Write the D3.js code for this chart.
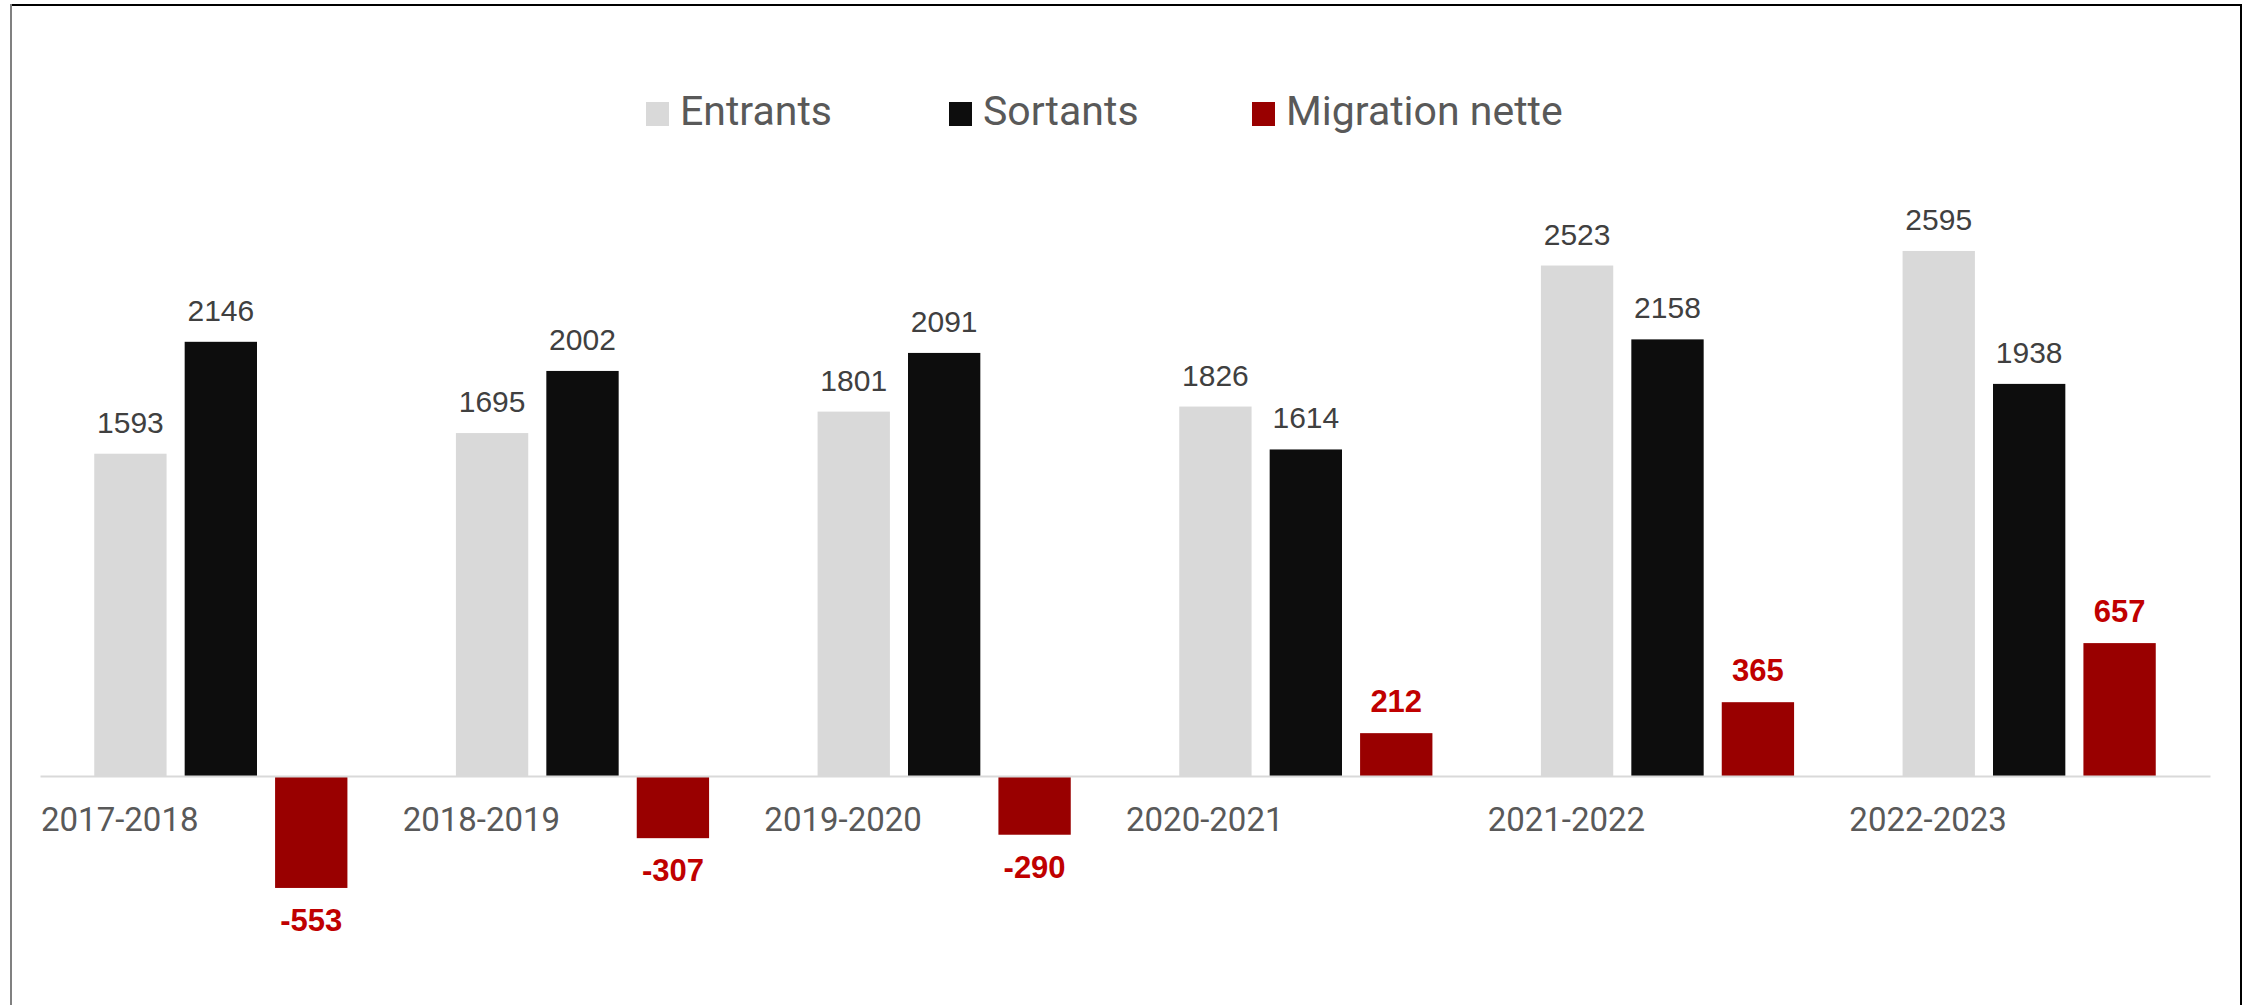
<!DOCTYPE html>
<html>
<head>
<meta charset="utf-8">
<script src="https://cdn.jsdelivr.net/npm/d3@7"></script>
<style>
  body { margin: 0; background: #fff; }
  svg { display: block; }
</style>
</head>
<body>
<div id="chart"></div>
<script>
// Migration chart: entrants, sortants and net migration per period

const categories = ["2017-2018", "2018-2019", "2019-2020", "2020-2021", "2021-2022", "2022-2023"];
const seriesNames = ["Entrants", "Sortants", "Migration nette"];
const entrants = [1593, 1695, 1801, 1826, 2523, 2595];
const sortants = [2146, 2002, 2091, 1614, 2158, 1938];
const migrationNette = [-553, -307, -290, 212, 365, 657];

const colors = ["#d9d9d9", "#0d0d0d", "#990000"];

const W = 2247, H = 1005;

const svg = d3.select("#chart")
  .append("svg")
    .attr("width", W)
    .attr("height", H);

// Frame lines (top, left, right)
svg.append("line").attr("x1", 10).attr("x2", 2242).attr("y1", 5).attr("y2", 5)
  .attr("stroke", "#000").attr("stroke-width", 2);
svg.append("line").attr("x1", 11).attr("x2", 11).attr("y1", 4).attr("y2", H)
  .attr("stroke", "#808080").attr("stroke-width", 2);
svg.append("line").attr("x1", 2241).attr("x2", 2241).attr("y1", 4).attr("y2", H)
  .attr("stroke", "#000").attr("stroke-width", 2);

// Build rows from the arrays
const data = categories.map((c, i) => ({
  cat: c,
  values: [entrants[i], sortants[i], migrationNette[i]]
}));

// Scales
const x0 = d3.scaleBand()
  .domain(categories)
  .range([40, 2210])
  .padding(0);

const x1 = d3.scaleBand()
  .domain(seriesNames)
  .range([0, x0.bandwidth()])
  .paddingInner(0.2)
  .paddingOuter(0.6);

const y = d3.scaleLinear()
  .domain([-1000, 3000])
  .range([978.4, 169]);

// Bars
const groups = svg.selectAll("g.group")
  .data(data)
  .enter().append("g")
    .attr("class", "group")
    .attr("transform", d => `translate(${x0(d.cat)},0)`);

groups.selectAll("rect")
  .data(d => d.values.map((v, k) => ({ key: seriesNames[k], k: k, v: v })))
  .enter().append("rect")
    .attr("x", d => x1(d.key))
    .attr("width", x1.bandwidth())
    .attr("y", d => y(Math.max(0, d.v)))
    .attr("height", d => Math.abs(y(d.v) - y(0)))
    .attr("fill", d => colors[d.k]);

// Value labels
groups.selectAll("text.val")
  .data(d => d.values.map((v, k) => ({ key: seriesNames[k], k: k, v: v })))
  .enter().append("text")
    .attr("class", "val")
    .attr("x", d => x1(d.key) + x1.bandwidth() / 2)
    .attr("y", d => d.v >= 0 ? y(d.v) - 21 : y(d.v) + 43)
    .attr("text-anchor", "middle")
    .style("font-family", "'Liberation Sans', Arial, sans-serif")
    .style("font-size", d => d.k === 2 ? "31px" : "30px")
    .style("font-weight", d => d.k === 2 ? "bold" : "normal")
    .attr("fill", d => d.k === 2 ? "#c00000" : "#404040")
    .text(d => d.v);

// X axis (zero line + category labels at the left of each band)
const xAxis = svg.append("g")
  .attr("transform", `translate(0,${y(0)})`)
  .call(d3.axisBottom(x0).tickSize(0).tickSizeOuter(0));

xAxis.select(".domain")
  .attr("stroke", "#d9d9d9")
  .attr("stroke-width", 2);

xAxis.selectAll("text")
  .attr("x", -x0.bandwidth() / 2 + 1)
  .attr("y", 0)
  .attr("dy", 55)
  .attr("text-anchor", "start")
  .style("font-family", "Roboto, sans-serif")
  .style("font-size", "33px")
  .attr("fill", "#595959");

// Legend
const legendX = [646, 949, 1252];
const legend = svg.selectAll("g.legend")
  .data(seriesNames)
  .enter().append("g")
    .attr("class", "legend")
    .attr("transform", (d, i) => `translate(${legendX[i]},0)`);

legend.append("rect")
  .attr("x", 0)
  .attr("y", 102)
  .attr("width", 23)
  .attr("height", 24)
  .attr("fill", (d, i) => colors[i]);

legend.append("text")
  .attr("x", 34)
  .attr("y", 125)
  .style("font-family", "Roboto, sans-serif")
  .style("font-size", "41px")
  .attr("fill", "#595959")
  .text(d => d);
</script>
</body>
</html>
